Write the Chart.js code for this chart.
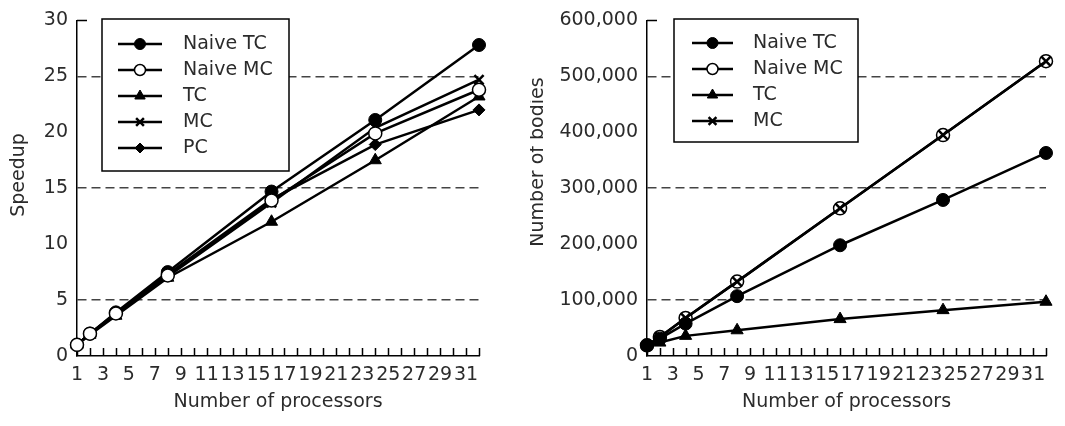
<!DOCTYPE html>
<html>
<head>
<meta charset="utf-8">
<script src="https://cdn.jsdelivr.net/npm/chart.js@4.4.1/dist/chart.umd.min.js"></script>
<style>
  body { margin: 0; background: #fff; }
  #wrap { display: flex; width: 1065px; height: 426px; }
  canvas { display: block; }
</style>
</head>
<body>
<div id="wrap">
  <canvas id="speedupChart" width="530" height="426"></canvas>
  <canvas id="bodiesChart" width="535" height="426"></canvas>
</div>
<script>
// processor counts shared by both panels
const processors = [1, 2, 4, 8, 16, 24, 32];

// left panel: speedup
const speedupNaiveTC = [1.0, 2.0, 3.9, 7.5, 14.7, 21.1, 27.8];
const speedupNaiveMC = [1.0, 2.0, 3.8, 7.2, 13.9, 19.9, 23.8];
const speedupTC = [1.0, 1.9, 3.6, 7.0, 12.0, 17.5, 23.2];
const speedupMC = [1.0, 2.0, 3.7, 7.1, 13.7, 20.4, 24.7];
const speedupPC = [1.0, 2.0, 3.8, 7.3, 14.0, 18.9, 22.0];

// right panel: number of bodies
const bodiesNaiveTC = [19000, 31000, 58000, 107000, 198000, 279000, 363000];
const bodiesNaiveMC = [19000, 34000, 68000, 133000, 264000, 395000, 527000];
const bodiesTC = [19000, 24000, 36000, 46000, 66000, 82000, 97000];
const bodiesMC = [19000, 34000, 68000, 133000, 264000, 395000, 527000];

const TEXT = "#2b2b2b";
const FONT = "DejaVu Sans";
Chart.defaults.font.family = FONT;
Chart.defaults.font.size = 19;
Chart.defaults.color = TEXT;

// marker looks for each series name
const styles = {
  "Naive TC": { pointStyle: "circle", pointRadius: 6.5, pointBackgroundColor: "#000", pointBorderWidth: 1 },
  "Naive MC": { pointStyle: "circle", pointRadius: 6.5, pointBackgroundColor: "#fff", pointBorderWidth: 1.5 },
  "TC": { pointStyle: "triangle", pointRadius: 7, pointBackgroundColor: "#000", pointBorderWidth: 1 },
  "MC": { pointStyle: "crossRot", pointRadius: 6.5, pointBackgroundColor: "#000", pointBorderWidth: 2.5 },
  "PC": { pointStyle: "rectRot", pointRadius: 6, pointBackgroundColor: "#000", pointBorderWidth: 1 },
};

function series(label, values, order) {
  return Object.assign({
    label: label,
    data: processors.map((p, i) => ({ x: p, y: values[i] })),
    borderColor: "#000",
    borderWidth: 2.5,
    pointBorderColor: "#000",
    tension: 0,
    fill: false,
    clip: false,
    order: order,
  }, styles[label]);
}

function xScale() {
  return {
    type: "linear",
    min: 1,
    max: 32,
    afterFit: (s) => { s.height = 70; },
    ticks: {
      stepSize: 1,
      autoSkip: false,
      maxRotation: 0,
      padding: 8,
      callback: (v) => (v % 2 === 1 ? String(v) : ""),
    },
    grid: { drawOnChartArea: false, drawTicks: false },
    border: { color: "#000", width: 1.5 },
  };
}

function yScale(max, step, width, fmt) {
  return {
    min: 0,
    max: max,
    afterFit: (s) => { s.width = width; },
    ticks: { stepSize: step, padding: 9, callback: fmt },
    grid: {
      color: (c) => (c.tick && Math.round(c.tick.value / step) % 2 === 1 ? "#444" : "rgba(0,0,0,0)"),
      lineWidth: 1.5,
      drawTicks: false,
    },
    border: { color: "#000", width: 1.5, dash: [9, 5] },
  };
}

// inward tick marks: every integer on x, only the top value on y
const inwardTicks = {
  id: "inwardTicks",
  beforeDatasetsDraw(chart) {
    const ctx = chart.ctx;
    const a = chart.chartArea;
    const xs = chart.scales.x;
    const ys = chart.scales.y;
    ctx.save();
    ctx.strokeStyle = "#000";
    ctx.lineWidth = 1.5;
    ctx.beginPath();
    xs.ticks.forEach((t) => {
      const px = Math.round(xs.getPixelForValue(t.value)) + 0.5;
      ctx.moveTo(px, a.bottom);
      ctx.lineTo(px, a.bottom - 8);
    });
    const top = Math.round(ys.getPixelForValue(ys.max)) + 0.5;
    ctx.moveTo(a.left, top);
    ctx.lineTo(a.left + 10, top);
    ctx.stroke();
    ctx.restore();
  },
};

// axis titles and the boxed legend with line + marker samples
const figureDecor = {
  id: "figureDecor",
  afterDraw(chart, args, opts) {
    const ctx = chart.ctx;
    const a = chart.chartArea;
    ctx.save();
    ctx.fillStyle = TEXT;
    ctx.font = "19px '" + FONT + "'";
    ctx.textAlign = "center";
    ctx.textBaseline = "middle";
    ctx.fillText(opts.xTitle, (a.left + a.right) / 2, opts.xTitleY);
    ctx.save();
    ctx.translate(opts.yTitleX, opts.yTitleY);
    ctx.rotate(-Math.PI / 2);
    ctx.fillText(opts.yTitle, 0, 0);
    ctx.restore();

    const b = opts.box;
    ctx.fillStyle = "#fff";
    ctx.fillRect(b.x, b.y, b.w, b.h);
    ctx.strokeStyle = "#000";
    ctx.lineWidth = 1.5;
    ctx.strokeRect(b.x, b.y, b.w, b.h);

    chart.data.datasets.forEach((ds, i) => {
      const y = b.firstRow + i * b.rowGap;
      ctx.strokeStyle = "#000";
      ctx.lineWidth = 2.5;
      ctx.beginPath();
      ctx.moveTo(b.lineX1, y);
      ctx.lineTo(b.lineX2, y);
      ctx.stroke();
      ctx.fillStyle = ds.pointBackgroundColor;
      ctx.strokeStyle = "#000";
      ctx.lineWidth = ds.pointBorderWidth;
      Chart.helpers.drawPoint(ctx, {
        pointStyle: ds.pointStyle,
        radius: ds.pointRadius - 1,
        borderWidth: ds.pointBorderWidth,
        rotation: 0,
      }, (b.lineX1 + b.lineX2) / 2, y);
      ctx.fillStyle = TEXT;
      ctx.textAlign = "left";
      ctx.fillText(ds.label, b.textX, y);
    });
    ctx.restore();
  },
};

function commonOptions(padRight, decor, xs, ys) {
  return {
    responsive: false,
    animation: false,
    layout: { padding: { left: 0, right: padRight, top: 18, bottom: 0 } },
    plugins: { legend: { display: false }, tooltip: { enabled: false }, figureDecor: decor },
    scales: { x: xs, y: ys },
  };
}

new Chart(document.getElementById("speedupChart"), {
  type: "line",
  data: {
    datasets: [
      series("Naive TC", speedupNaiveTC, 1),
      series("Naive MC", speedupNaiveMC, 0),
      series("TC", speedupTC, 1),
      series("MC", speedupMC, 1),
      series("PC", speedupPC, 1),
    ],
  },
  options: commonOptions(51, {
    xTitle: "Number of processors", xTitleY: 402,
    yTitle: "Speedup", yTitleX: 19, yTitleY: 175,
    box: { x: 102, y: 19, w: 187, h: 152, firstRow: 44, rowGap: 26, lineX1: 118, lineX2: 162, textX: 183 },
  }, xScale(), yScale(30, 5, 77, (v) => String(v))),
  plugins: [inwardTicks, figureDecor],
});

new Chart(document.getElementById("bodiesChart"), {
  type: "line",
  data: {
    datasets: [
      series("Naive TC", bodiesNaiveTC, 1),
      series("Naive MC", bodiesNaiveMC, 1),
      series("TC", bodiesTC, 1),
      series("MC", bodiesMC, 0),
    ],
  },
  options: commonOptions(19, {
    xTitle: "Number of processors", xTitleY: 402,
    yTitle: "Number of bodies", yTitleX: 8, yTitleY: 162,
    box: { x: 144, y: 19, w: 184, h: 123, firstRow: 43, rowGap: 26, lineX1: 162, lineX2: 203, textX: 223 },
  }, xScale(), yScale(600000, 100000, 117, (v) => v.toLocaleString("en-US"))),
  plugins: [inwardTicks, figureDecor],
});
</script>
</body>
</html>
